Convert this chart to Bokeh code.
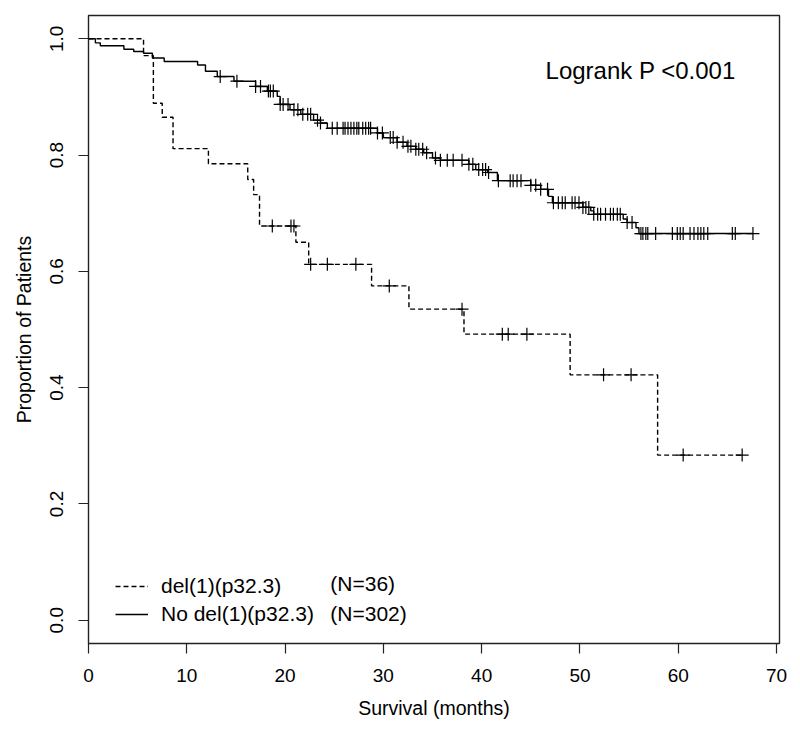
import numpy as np
from bokeh.plotting import figure
from bokeh.models import Range1d, Legend, LegendItem, Label, FixedTicker
from bokeh.embed import file_html
from bokeh.resources import INLINE

# ---- data (months, survival proportion) ----
del_times = [5.6, 6.6, 7.5, 8.6, 12.2, 16.2, 16.8, 17.4, 21.1, 22.4, 28.8, 32.6, 38.2, 49.0, 57.9]
del_surv = [0.971, 0.889, 0.865, 0.811, 0.785, 0.758, 0.732, 0.678, 0.650, 0.612, 0.575, 0.535, 0.492, 0.422, 0.284]
del_censor = [18.7, 20.6, 20.9, 22.6, 24.3, 27.2, 30.6, 38.0, 42.1, 42.7, 44.6, 52.4, 55.2, 60.5, 66.5]
del_end = 66.5

no_times = [0.7, 1.2, 3.6, 4.6, 5.6, 6.5, 7.7, 11.1, 11.9, 13.1, 14.8, 17.0, 18.2, 19.2, 19.5,
            20.5, 21.6, 22.9, 23.6, 24.3, 29.4, 30.0, 31.4, 32.4, 33.3, 34.1, 35.0, 35.8, 38.7, 39.4,
            40.6, 41.6, 45.0, 46.0, 46.8, 47.2, 50.3, 51.1, 51.4, 54.4, 54.8, 55.7, 56.0]
no_surv = [0.993, 0.988, 0.982, 0.978, 0.975, 0.967, 0.961, 0.955, 0.944, 0.935, 0.927, 0.918, 0.910, 0.901, 0.887,
           0.878, 0.870, 0.860, 0.855, 0.846, 0.838, 0.830, 0.822, 0.815, 0.810, 0.804, 0.795, 0.791, 0.784, 0.775,
           0.770, 0.756, 0.748, 0.741, 0.729, 0.718, 0.710, 0.704, 0.698, 0.690, 0.684, 0.675, 0.665]
no_censor = [13.4, 15.1, 17.0, 17.5, 18.3, 18.5, 18.8, 19.5, 19.8, 20.3, 20.9, 21.3, 21.8, 22.3, 22.6,
             23.3, 23.6, 24.8, 25.3, 25.9, 26.1, 26.4, 26.7, 27.0, 27.3, 27.5, 27.9, 28.2, 28.5, 28.7,
             29.4, 29.9, 30.7, 31.0, 31.4, 32.0, 32.5, 32.8, 33.3, 33.6, 34.0, 34.4, 35.3, 35.8, 36.5,
             37.1, 38.0, 38.7, 39.1, 39.7, 40.1, 40.4, 40.7, 41.7, 42.9, 43.2, 43.6, 44.0, 45.0, 45.5,
             46.0, 46.7, 47.3, 47.8, 48.2, 48.5, 49.2, 49.5, 49.9, 50.3, 50.6, 50.9, 51.4, 51.8, 52.1,
             52.6, 53.1, 53.4, 53.8, 54.1, 54.8, 55.3, 56.2, 56.4, 56.7, 56.9, 57.7, 59.4, 59.9, 60.2,
             60.5, 61.2, 61.6, 62.0, 62.3, 62.6, 63.0, 65.5, 65.8, 67.6]
no_end = 67.6

x_ticks = [0, 10, 20, 30, 40, 50, 60, 70]
y_ticks = [0.0, 0.2, 0.4, 0.6, 0.8, 1.0]

labels = ["del(1)(p32.3)", "No del(1)(p32.3)"]
counts = ["(N=36)", "(N=302)"]
pval_text = "Logrank P <0.001"

FONT = "Liberation Sans"


def step_path(times, surv, end):
    xs, ys = [0.0], [1.0]
    prev = 1.0
    for t, s in zip(times, surv):
        xs += [t, t]
        ys += [prev, s]
        prev = s
    xs.append(end)
    ys.append(prev)
    return xs, ys


def censor_y(times, surv, cens):
    t = np.asarray(times)
    out = []
    for c in cens:
        i = np.searchsorted(t, c, side="right")
        out.append(1.0 if i == 0 else surv[i - 1])
    return out


p = figure(width=791, height=722, output_backend="svg", toolbar_location=None,
           x_range=Range1d(0, 70.3), y_range=Range1d(-0.04, 1.04),
           min_border_left=88, min_border_right=12, min_border_top=15, min_border_bottom=79)
p.background_fill_color = "white"
p.border_fill_color = "white"
p.outline_line_color = "#222222"
p.outline_line_width = 1.4
p.grid.visible = False

for ax in (p.xaxis[0], p.yaxis[0]):
    ax.axis_line_color = None
    ax.major_tick_in = 0
    ax.major_tick_out = 10
    ax.major_tick_line_color = "#222222"
    ax.major_tick_line_width = 1.2
    ax.minor_tick_line_color = None
    ax.major_label_text_font = FONT
    ax.major_label_text_font_size = "19px"
    ax.major_label_text_color = "black"
    ax.axis_label_text_font = FONT
    ax.axis_label_text_font_size = "19.5px"
    ax.axis_label_text_font_style = "normal"
    ax.axis_label_text_color = "black"

p.xaxis.ticker = FixedTicker(ticks=x_ticks)
p.yaxis.ticker = FixedTicker(ticks=y_ticks)
p.yaxis.major_label_overrides = {v: f"{v:.1f}" for v in y_ticks}
p.yaxis.major_label_orientation = "vertical"
p.xaxis.axis_label = "Survival (months)"
p.yaxis.axis_label = "Proportion of Patients"
p.xaxis.major_label_standoff = 15
p.xaxis.axis_label_standoff = 12
p.yaxis.major_label_standoff = 15
p.yaxis.axis_label_standoff = 13

# curves
dx, dy = step_path(del_times, del_surv, del_end)
nx, ny = step_path(no_times, no_surv, no_end)
r_del = p.line(dx, dy, line_color="black", line_width=1.4, line_dash="5 3")
r_no = p.line(nx, ny, line_color="black", line_width=1.4)

p.scatter(del_censor, censor_y(del_times, del_surv, del_censor), marker="cross",
          size=13, line_color="black", line_width=1.2)
p.scatter(no_censor, censor_y(no_times, no_surv, no_censor), marker="cross",
          size=13, line_color="black", line_width=1.2)

legend = Legend(items=[LegendItem(label=labels[0], renderers=[r_del]),
                       LegendItem(label=labels[1], renderers=[r_no])],
                location=(27, 17), orientation="vertical",
                glyph_width=33, glyph_height=20, label_height=20, label_standoff=13,
                spacing=4, padding=0, margin=0,
                border_line_color=None, background_fill_alpha=0,
                label_text_font=FONT, label_text_font_size="21px", label_text_color="black")
p.add_layout(legend)

for lab, yv in zip(counts, [0.064, 0.012]):
    p.add_layout(Label(x=24.6, y=yv, text=lab, text_font=FONT, text_font_size="21px",
                       text_baseline="middle", text_align="left", text_color="black"))

p.add_layout(Label(x=46.5, y=0.945, text=pval_text, text_font=FONT, text_font_size="24px",
                   text_baseline="middle", text_align="left", text_color="black"))

open("out.html", "w").write(file_html(p, INLINE))
